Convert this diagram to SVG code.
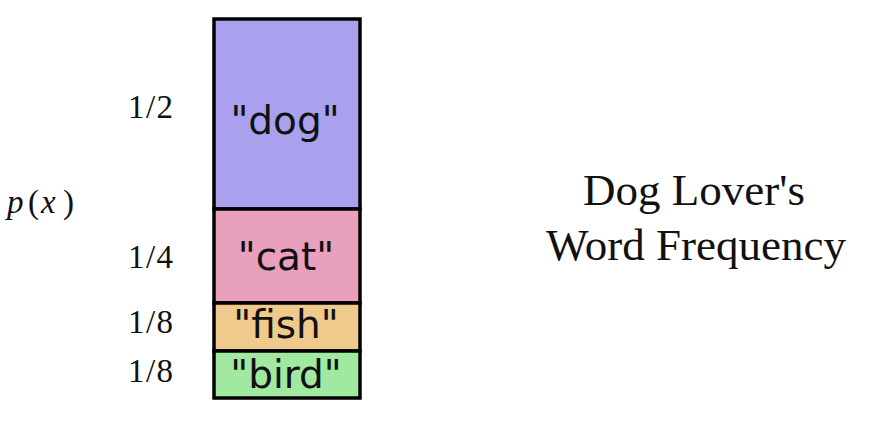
<svg xmlns="http://www.w3.org/2000/svg" width="872" height="442" viewBox="0 0 872 442">
<style>
.bar{stroke:#000;stroke-width:3.5}
.lbl{font-family:"DejaVu Sans",sans-serif;font-size:39px;text-anchor:middle;fill:#111}
.frac{font-family:"Liberation Serif",serif;font-size:33px;fill:#111}
.title{font-family:"Liberation Serif",serif;font-size:45px;text-anchor:middle;fill:#111}
</style>
<rect width="872" height="442" fill="#fff"/>
<g id="dog">
<rect class="bar" x="214" y="19" width="146" height="190" fill="#a9a1ee"/>
<text class="lbl" x="285" y="134">"dog"</text>
</g>
<g id="cat">
<rect class="bar" x="214" y="209" width="146" height="94" fill="#e8a0bd"/>
<text class="lbl" x="286" y="270">"cat"</text>
</g>
<g id="fish">
<rect class="bar" x="214" y="303" width="146" height="48" fill="#f0c98d"/>
<text class="lbl" x="286" y="338">"fish"</text>
</g>
<g id="bird">
<rect class="bar" x="214" y="351" width="146" height="47" fill="#a1e8a1"/>
<text class="lbl" x="286" y="388">"bird"</text>
</g>
<g id="labels">
<text class="frac" x="128" y="118" textLength="45">1/2</text>
<text class="frac" x="128" y="268" textLength="45">1/4</text>
<text class="frac" x="128" y="333" textLength="45">1/8</text>
<text class="frac" x="128" y="382" textLength="45">1/8</text>
<text class="frac" y="213" font-size="38"><tspan x="7" font-style="italic">p</tspan><tspan x="28">(</tspan><tspan x="41" font-style="italic">x</tspan><tspan x="63">)</tspan></text>
</g>
<g id="title">
<text class="title" x="694" y="205">Dog Lover's</text>
<text class="title" x="696" y="260">Word Frequency</text>
</g>
</svg>
